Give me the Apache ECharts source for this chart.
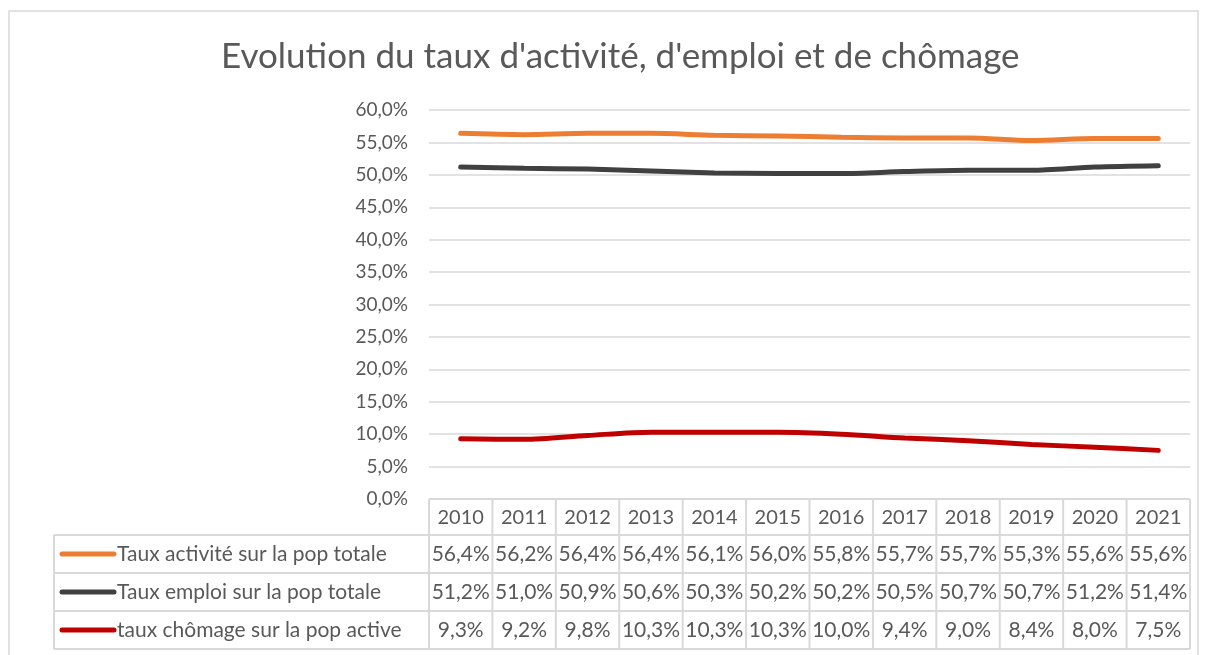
<!DOCTYPE html>
<html>
<head>
<meta charset="utf-8">
<script src="https://cdn.jsdelivr.net/npm/echarts@6/dist/echarts.min.js"></script>
<style>
  html, body { margin: 0; padding: 0; background: #fff; }
  #chart { width: 1208px; height: 655px; }
</style>
</head>
<body>
<div id="chart"></div>
<script>
// données
const years = ['2010', '2011', '2012', '2013', '2014', '2015', '2016', '2017', '2018', '2019', '2020', '2021'];
const tauxActivite = [56.4, 56.2, 56.4, 56.4, 56.1, 56.0, 55.8, 55.7, 55.7, 55.3, 55.6, 55.6];
const tauxEmploi = [51.2, 51.0, 50.9, 50.6, 50.3, 50.2, 50.2, 50.5, 50.7, 50.7, 51.2, 51.4];
const tauxChomage = [9.3, 9.2, 9.8, 10.3, 10.3, 10.3, 10.0, 9.4, 9.0, 8.4, 8.0, 7.5];
const seriesNames = ['Taux activité sur la pop totale', 'Taux emploi sur la pop totale', 'taux chômage sur la pop active'];
const seriesColors = ['#ED7D31', '#404040', '#C00000'];

const FONT = 'Lato';
const TXT = '#595959';
const BORDER = '#D9D9D9';

function pct(v) {
  return v.toFixed(1).replace('.', ',') + '%';
}

const chart = echarts.init(document.getElementById('chart'));

const allSeries = [tauxActivite, tauxEmploi, tauxChomage];

const option = {
  animation: false,
  title: {
    text: "Evolution du taux d'activité, d'emploi et de chômage",
    left: 216,
    top: 34,
    textStyle: { fontFamily: FONT, fontSize: 35, fontWeight: 'normal', color: TXT }
  },
  grid: { left: 429, right: 18, top: 110, bottom: 156 },
  xAxis: {
    type: 'category',
    data: years,
    boundaryGap: true,
    axisLine: { show: false },
    axisTick: { show: false },
    axisLabel: { show: false }
  },
  yAxis: {
    type: 'value',
    min: 0,
    max: 60,
    interval: 5,
    axisLine: { show: false },
    axisTick: { show: false },
    splitLine: { lineStyle: { color: BORDER, width: 1.5 } },
    axisLabel: {
      formatter: pct,
      margin: 21,
      fontFamily: FONT,
      fontSize: 19,
      color: TXT
    }
  },
  series: allSeries.map(function (d, i) {
    return {
      name: seriesNames[i],
      type: 'line',
      data: d,
      smooth: 0.3,
      symbol: 'none',
      lineStyle: { color: seriesColors[i], width: 5, cap: 'round' }
    };
  })
};
chart.setOption(option);

// tableau de données sous le graphique
function buildTable() {
  const c0 = chart.convertToPixel({ xAxisIndex: 0 }, 0);
  const c1 = chart.convertToPixel({ xAxisIndex: 0 }, 1);
  const band = c1 - c0;
  const left = c0 - band / 2;
  const right = left + band * years.length;
  const top = chart.convertToPixel({ yAxisIndex: 0 }, 0);
  const headerH = 36;
  const rowH = 38;
  const legendLeft = 54;
  const els = [];
  const line = function (x1, y1, x2, y2) {
    els.push({ type: 'line', shape: { x1: x1, y1: y1, x2: x2, y2: y2 }, style: { stroke: BORDER, lineWidth: 2 }, silent: true });
  };
  const text = function (x, y, s, size, align) {
    els.push({ type: 'text', x: x, y: y, style: { text: s, fill: TXT, font: size + 'px ' + FONT, align: align || 'center', verticalAlign: 'middle' }, silent: true });
  };

  // bordure extérieure du graphique
  els.push({ type: 'rect', shape: { x: 9, y: 11, width: 1189, height: 660 }, style: { fill: 'none', stroke: BORDER, lineWidth: 1.5 }, silent: true });

  const bottom = top + headerH + rowH * seriesNames.length;
  // lignes horizontales
  line(left, top, right, top);
  for (let r = 0; r <= seriesNames.length; r++) {
    const y = top + headerH + rowH * r;
    line(legendLeft, y, right, y);
  }
  // lignes verticales
  for (let k = 0; k <= years.length; k++) {
    line(left + band * k, top, left + band * k, bottom);
  }
  line(legendLeft, top + headerH, legendLeft, bottom);

  years.forEach(function (yr, k) {
    text(left + band * (k + 0.5), top + headerH / 2 + 1, yr, 20);
  });
  seriesNames.forEach(function (name, r) {
    const yc = top + headerH + rowH * (r + 0.5);
    els.push({ type: 'line', shape: { x1: 62, y1: yc, x2: 114, y2: yc }, style: { stroke: seriesColors[r], lineWidth: 5, lineCap: 'round' }, silent: true });
    text(117, yc, name, 21, 'left');
    allSeries[r].forEach(function (v, k) {
      text(left + band * (k + 0.5), yc, pct(v), 21);
    });
  });
  chart.setOption({ graphic: { elements: els } });
}
buildTable();
</script>
</body>
</html>
